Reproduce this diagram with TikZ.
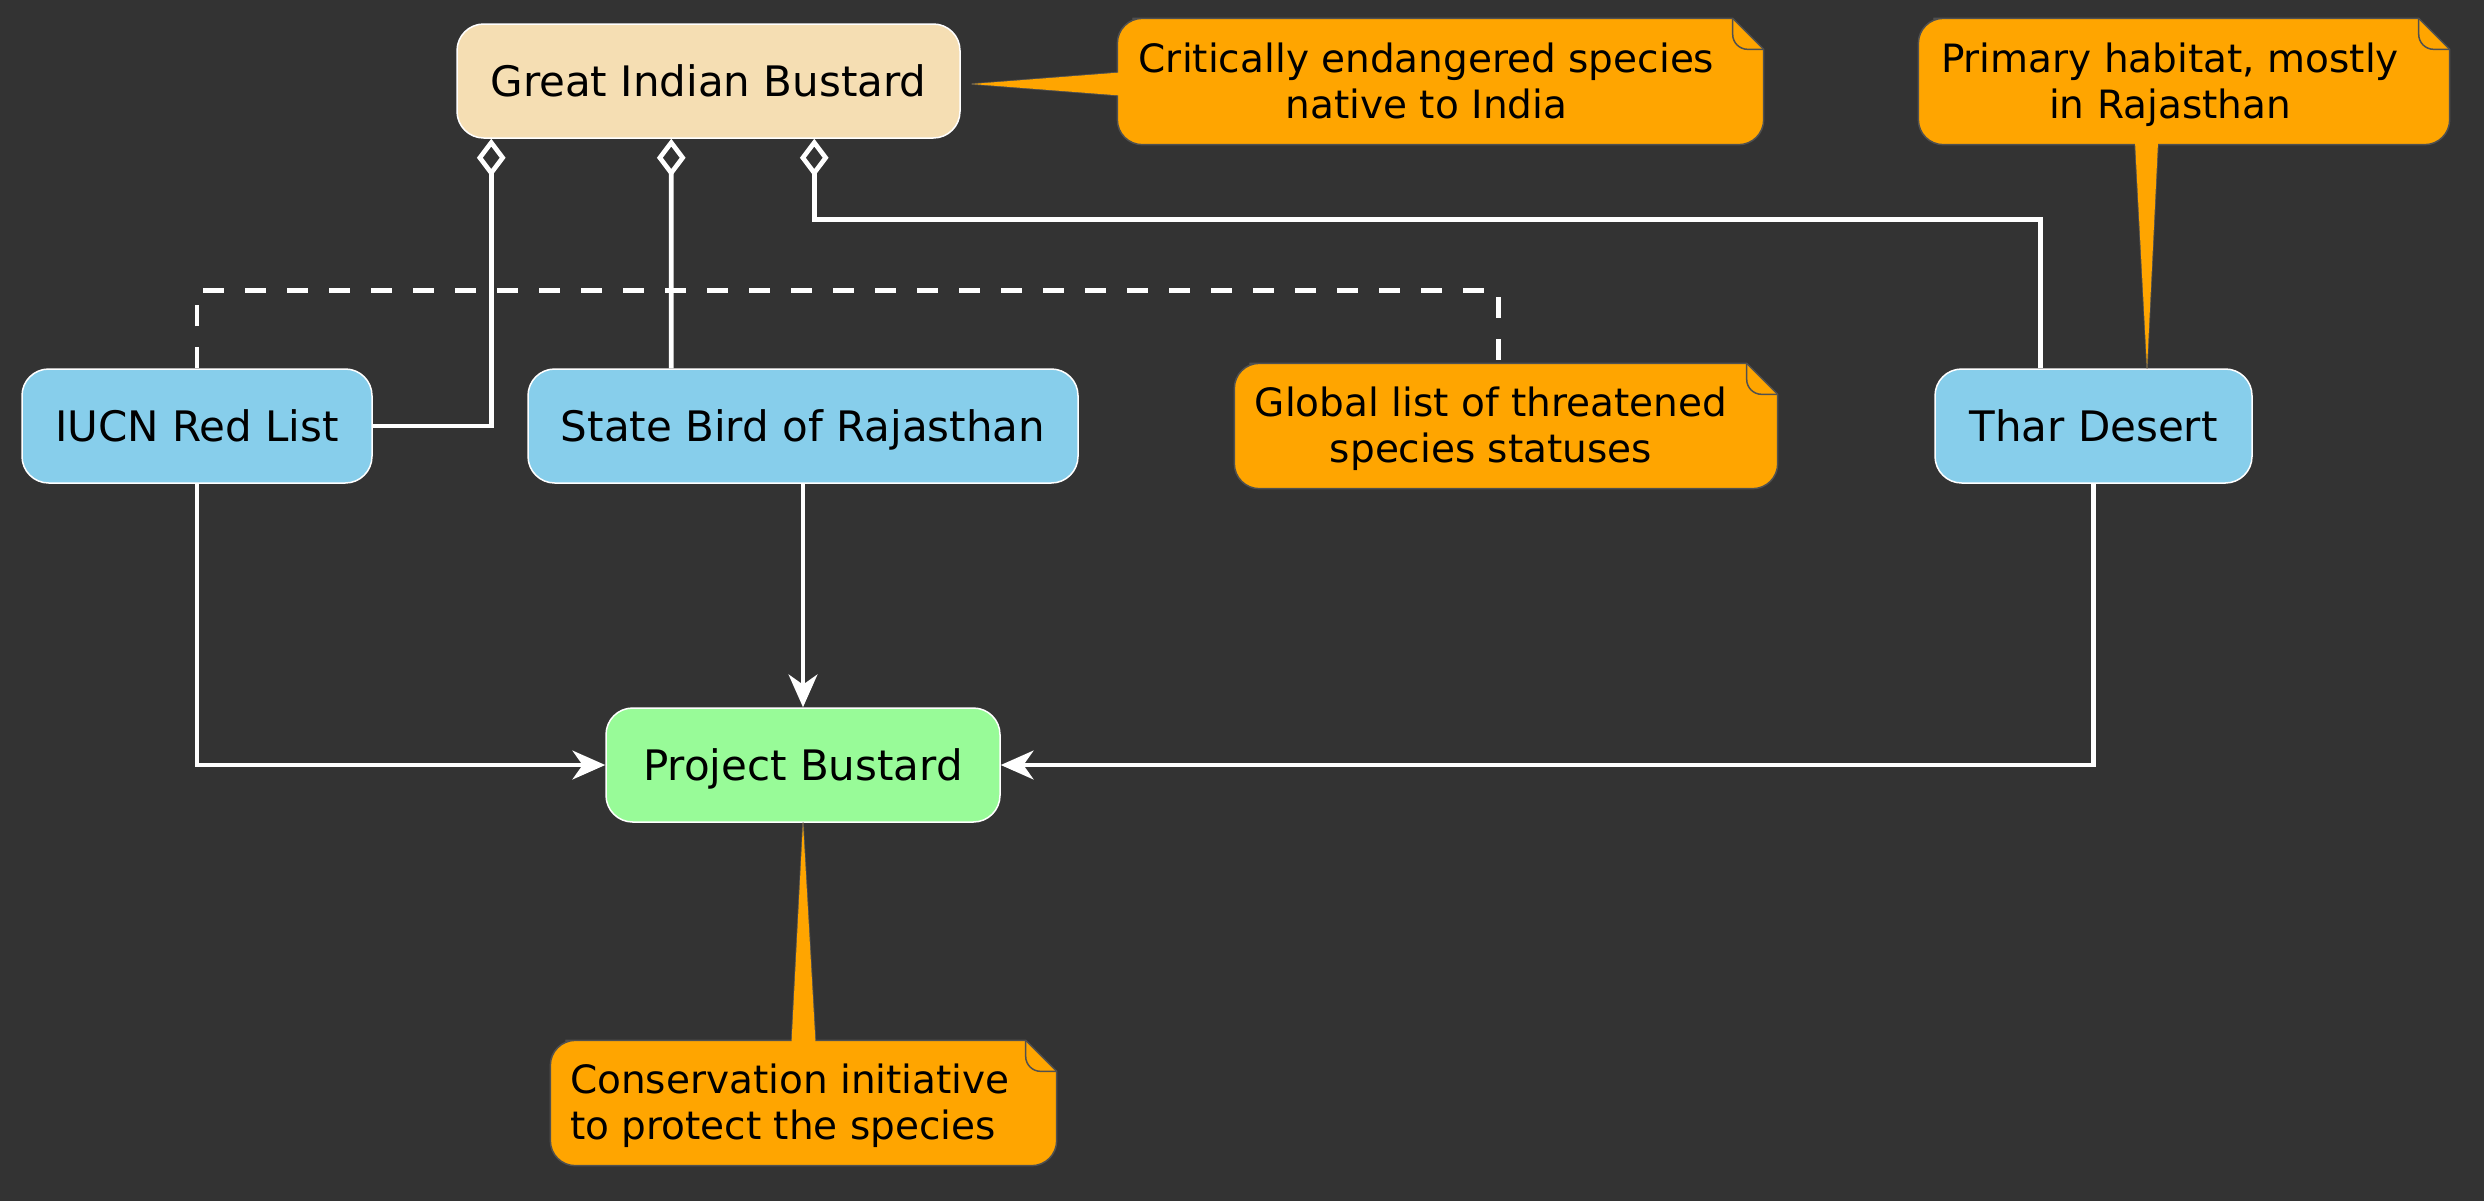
\documentclass[tikz,border=0pt]{standalone}
\usepackage{fontspec}
\setmainfont{DejaVu Sans}
\usetikzlibrary{arrows.meta,calc}
\definecolor{bgc}{HTML}{333333}
\definecolor{wheatc}{HTML}{F5DEB3}
\definecolor{skyc}{HTML}{87CEEB}
\definecolor{greenc}{HTML}{98FB98}
\definecolor{notec}{HTML}{FFA500}
\definecolor{notegray}{HTML}{505050}
\newcommand\gibboxfont{\fontsize{12.6pt}{15pt}\selectfont}
\newcommand\gibnotefont{\fontsize{11.7pt}{13.8pt}\selectfont}
\newcommand\notefr[1]{%
  \path[notefill] ($(#1.north west)+(40,0)$) [sharp corners] -- ($(#1.north east)+(-31,0)$) -- ($(#1.north east)+(0,31)$) -- ($(#1.north east)+(0,45)$) [rounded corners=7.5pt] -- (#1.south east) -- (#1.south west) -- (#1.north west) -- cycle;
  \draw[notefold] ($(#1.north east)+(-31,0)$) [rounded corners=4.5pt] -- ($(#1.north east)+(-31,31)$) -- ($(#1.north east)+(0,31)$);
}
\begin{document}
\begin{tikzpicture}[x=0.3pt,y=-0.3pt,
  box/.style={rectangle, rounded corners=8pt, draw=white, line width=0.45pt, inner sep=0pt,
    minimum height=34.2pt, text height=9.2pt, text depth=0pt, font=\gibboxfont, text=black},
  noteframe/.style={rectangle, inner sep=0pt, draw=none, fill=none},
  notefill/.style={fill=notec, draw=notegray, line width=0.45pt},
  notefold/.style={draw=notegray, line width=0.45pt},
  notetext/.style={inner sep=0pt, font=\gibnotefont, text=black},
  wedge/.style={fill=notec, draw=notegray, line width=0.45pt},
  wedgefill/.style={fill=notec, draw=none},
  conn/.style={draw=white, line width=1.4pt},
  agg/.style={conn, -{Diamond[open, length=11.4pt, width=8.6pt]}},
  arr/.style={conn, -{Stealth[length=9.8pt, width=8.6pt, inset=3pt]}},
  dashconn/.style={conn, dash pattern=on 6.3pt off 6.3pt}
]
\useasboundingbox (0,0) rectangle (2484,1200);
\fill[bgc] (-20,-20) rectangle (2504,1220);

% boxes
\node[box, fill=wheatc, minimum width=150.9pt] (gib) at (708.5,81) {Great Indian Bustard};
\node[box, fill=skyc, minimum width=105pt] (iucn) at (197,426) {IUCN Red List};
\node[box, fill=skyc, minimum width=165pt] (sb) at (803,426) {State Bird of Rajasthan};
\node[box, fill=skyc, minimum width=95.1pt] (thar) at (2093.5,426) {Thar Desert};
\node[box, fill=greenc, minimum width=118.2pt] (pb) at (803,765) {Project Bustard};

% note frames
\node[noteframe, minimum width=193.5pt, minimum height=37.5pt] (n1) at (1440.5,81.5) {};
\node[noteframe, minimum width=159pt, minimum height=37.5pt] (n2) at (2184,81.5) {};
\node[noteframe, minimum width=162.6pt, minimum height=37.2pt] (n3) at (1506,426) {};
\node[noteframe, minimum width=151.5pt, minimum height=37.2pt] (n4) at (803.5,1103) {};

% aggregation connectors
\draw[agg] (iucn.east) -| ($(gib.south west)+(35,0)$);
\draw[agg] ($(sb.north west)+(144,0)$) -- ($(gib.south west)+(215,0)$);
\draw[agg] ($(thar.north west)+(106,0)$) |- ($(gib.south west)+(358,81)$) -- ($(gib.south west)+(358,0)$);

% dashed note link
\draw[dashconn] (iucn.north) |- ($(n3.north west)+(264,-73)$) -- ($(n3.north west)+(264,0)$);

% arrows to Project Bustard
\draw[arr] (sb.south) -- (pb.north);
\draw[arr] (iucn.south) |- (pb.west);
\draw[arr] (thar.south) |- (pb.east);

% note pointers
\path[wedge] ($(n1.west)+(0,-9)$) -- ($(gib.east)+(11,3)$) -- ($(n1.west)+(0,14)$) -- cycle;
\path[wedge] ($(n2.south)+(-49,0)$) -- ($(thar.north)+(53.5,0)$) -- ($(n2.south)+(-26,0)$) -- cycle;
\path[wedge] ($(n4.north)+(-12,0)$) -- (pb.south) -- ($(n4.north)+(12,0)$) -- cycle;

% note bodies
\notefr{n1}
\notefr{n2}
\notefr{n3}
\notefr{n4}

\path[wedgefill] ($(n1.west)+(3,-9)$) -- ($(gib.east)+(11,3)$) -- ($(n1.west)+(3,14)$) -- cycle;
\path[wedgefill] ($(n2.south)+(-49,-3)$) -- ($(thar.north)+(53.5,0)$) -- ($(n2.south)+(-26,-3)$) -- cycle;
\path[wedgefill] ($(n4.north)+(-12,3)$) -- (pb.south) -- ($(n4.north)+(12,3)$) -- cycle;

% note texts
\node[notetext] (n1t) at ($(n1.center)+(-14,4.3)$) {\begin{tabular}{@{}c@{}}Critically endangered species\\native to India\end{tabular}};
\node[notetext] (n2t) at ($(n2.center)+(-14,4.3)$) {\begin{tabular}{@{}c@{}}Primary habitat, mostly\\in Rajasthan\end{tabular}};
\node[notetext] (n3t) at ($(n3.center)+(-15,4.3)$) {\begin{tabular}{@{}c@{}}Global list of threatened\\species statuses\end{tabular}};
\node[notetext, anchor=west] (n4t) at ($(n4.west)+(19,4)$) {\begin{tabular}{@{}l@{}}Conservation initiative\\to protect the species\end{tabular}};
\end{tikzpicture}
\end{document}
